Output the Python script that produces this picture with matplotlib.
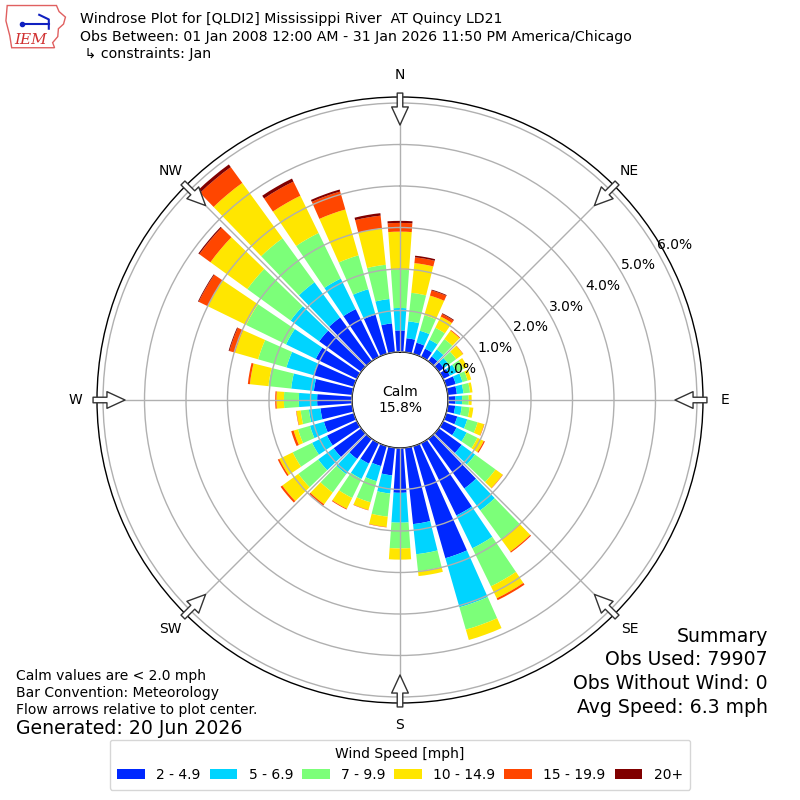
import numpy as np
import matplotlib.pyplot as plt
from matplotlib.patches import Polygon

# wind direction bins (degrees, meteorological convention)
directions = np.arange(0, 360, 10)

speed_labels = ['2 - 4.9', '5 - 6.9', '7 - 9.9', '10 - 14.9', '15 - 19.9', '20+']
colors = ['#0028ff', '#00d4ff', '#7cff79', '#ffe600', '#ff4600', '#800000']

# percent of obs per direction, one list per speed bin
spd_2 = [0.52, 0.34, 0.28, 0.22, 0.14, 0.15, 0.18, 0.24, 0.22, 0.18, 0.18, 0.28,
         0.36, 0.68, 1.48, 1.94, 2.81, 1.85, 1.08, 0.67, 0.50, 0.55, 0.60, 0.82,
         0.80, 0.75, 0.77, 0.84, 0.93, 1.01, 1.10, 1.25, 1.30, 1.28, 0.98, 0.70]
spd_5 = [0.54, 0.41, 0.30, 0.24, 0.21, 0.15, 0.18, 0.17, 0.16, 0.16, 0.16, 0.25,
         0.27, 0.40, 0.65, 0.88, 1.23, 0.73, 0.72, 0.44, 0.38, 0.41, 0.45, 0.46,
         0.40, 0.35, 0.28, 0.44, 0.55, 0.68, 0.80, 0.85, 1.05, 0.82, 0.64, 0.59]
spd_7 = [0.92, 0.69, 0.39, 0.32, 0.31, 0.22, 0.19, 0.13, 0.16, 0.16, 0.19, 0.26,
         0.29, 0.61, 0.86, 1.02, 0.56, 0.41, 0.62, 0.56, 0.53, 0.51, 0.55, 0.59,
         0.52, 0.30, 0.20, 0.36, 0.55, 0.71, 1.07, 1.29, 1.31, 1.22, 0.85, 0.83]
spd_10 = [0.92, 0.72, 0.49, 0.30, 0.25, 0.20, 0.10, 0.09, 0.06, 0.07, 0.09, 0.16,
          0.17, 0.21, 0.37, 0.32, 0.26, 0.12, 0.27, 0.25, 0.19, 0.29, 0.35, 0.48,
          0.36, 0.11, 0.10, 0.18, 0.45, 0.58, 1.03, 1.10, 1.65, 1.00, 1.15, 0.88]
spd_15 = [0.21, 0.14, 0.13, 0.07, 0.02, 0.01, 0.00, 0.00, 0.00, 0.00, 0.00, 0.01,
          0.03, 0.01, 0.03, 0.05, 0.00, 0.00, 0.00, 0.01, 0.01, 0.02, 0.04, 0.05,
          0.04, 0.06, 0.01, 0.03, 0.05, 0.14, 0.24, 0.33, 0.47, 0.38, 0.45, 0.31]
spd_20 = [0.05, 0.04, 0.02, 0.02, 0.00, 0.00, 0.00, 0.00, 0.00, 0.00, 0.00, 0.00,
          0.00, 0.00, 0.00, 0.00, 0.00, 0.00, 0.00, 0.00, 0.00, 0.00, 0.00, 0.00,
          0.00, 0.00, 0.00, 0.00, 0.00, 0.02, 0.02, 0.03, 0.08, 0.08, 0.05, 0.06]
speed_bins = [spd_2, spd_5, spd_7, spd_10, spd_15, spd_20]

rticks = [0, 1, 2, 3, 4, 5, 6]
compass = ['N', 'NE', 'E', 'SE', 'S', 'SW', 'W', 'NW']
calm_pct = 15.8

title_lines = ['Windrose Plot for [QLDI2] Mississippi River  AT Quincy LD21',
               'Obs Between: 01 Jan 2008 12:00 AM - 31 Jan 2026 11:50 PM America/Chicago',
               ' \u21b3 constraints: Jan']
summary_lines = ['Summary', 'Obs Used: 79907', 'Obs Without Wind: 0',
                 'Avg Speed: 6.3 mph']
note_lines = ['Calm values are < 2.0 mph', 'Bar Convention: Meteorology',
              'Flow arrows relative to plot center.']

fig = plt.figure(figsize=(8, 8), dpi=100)
ax = fig.add_axes([0.12125, 0.12125, 0.7575, 0.7575], projection='polar')
ax.set_theta_zero_location('N')
ax.set_theta_direction(-1)
ax.set_rorigin(-1.157)
ax.set_ylim(0, 6.145)

theta = np.radians(directions)
bottom = np.zeros(len(directions))
for vals, col, lab in zip(speed_bins, colors, speed_labels):
    ax.bar(theta, vals, width=np.radians(8), bottom=bottom, color=col,
           label=lab, linewidth=0)
    bottom = bottom + np.array(vals)

ax.set_axisbelow(False)
ax.grid(True, color='#b0b0b0', linewidth=1)
ax.set_yticks(rticks)
ax.set_yticklabels([])
ax.set_xticks(np.radians(np.arange(0, 360, 45)))
ax.set_xticklabels(compass, fontsize=10)
ax.tick_params(axis='x', pad=5)
ax.spines['polar'].set_color('black')
ax.spines['polar'].set_linewidth(1)
ax.spines['inner'].set_visible(True)
ax.spines['inner'].set_color('black')
ax.spines['inner'].set_linewidth(1)

for r in rticks:
    ax.text(np.radians(60), r, '%.1f%%' % r, ha='left', va='bottom', fontsize=10)

# flow arrows at the compass points
for ang in np.arange(0, 360, 45):
    ax.annotate('', xy=(np.radians(ang), 5.47), xytext=(np.radians(ang), 6.24),
                arrowprops=dict(arrowstyle='simple,head_length=1.3,head_width=1.2,tail_width=0.4',
                                mutation_scale=10, fc='white', ec='#333333', lw=1,
                                shrinkA=0, shrinkB=0),
                annotation_clip=False, zorder=5)

fig.text(0.5, 0.5, 'Calm\n%.1f%%' % calm_pct, ha='center', va='center', fontsize=10)

for i, line in enumerate(title_lines):
    fig.text(0.1, 1 - (19 + 17.5 * i) / 800, line, va='center', fontsize=10.15)

for i, line in enumerate(summary_lines):
    fig.text(0.96, 1 - (636 + 23.7 * i) / 800, line, ha='right', va='center', fontsize=13.6)

for i, line in enumerate(note_lines):
    fig.text(0.02, 1 - (676 + 17 * i) / 800, line, va='center', fontsize=10)
fig.text(0.02, 1 - 729 / 800, 'Generated: 20 Jun 2026', va='center', fontsize=13.6)

fig.legend(loc='lower center', bbox_to_anchor=(0.5, 0.004), ncol=6,
           title='Wind Speed [mph]', fontsize=10, title_fontsize=10,
           columnspacing=0.65, borderpad=0.55)

# IEM logo (rough)
lax = fig.add_axes([0.005, 0.938, 0.08, 0.058])
lax.set_xlim(0, 1)
lax.set_ylim(0, 1)
lax.axis('off')
iowa = [(0.05, 0.95), (0.82, 0.95), (0.86, 0.82), (0.96, 0.7), (0.93, 0.55),
        (0.85, 0.45), (0.84, 0.28), (0.76, 0.15), (0.79, 0.04), (0.12, 0.04),
        (0.09, 0.3), (0.03, 0.62), (0.05, 0.95)]
lax.add_patch(Polygon(iowa, closed=True, fill=False, ec='#e06060', lw=1))
lax.plot([0.28, 0.7], [0.55, 0.55], color='#1020c0', lw=1.5)
lax.plot([0.55, 0.7, 0.7], [0.75, 0.65, 0.45], color='#1020c0', lw=1.5)
lax.plot([0.28], [0.55], 'o', color='#1020c0', ms=3)
lax.text(0.42, 0.2, 'IEM', color='#d03030', fontsize=11, style='italic',
         family='DejaVu Serif', ha='center', va='center')

fig.savefig('out.png', dpi=100)
